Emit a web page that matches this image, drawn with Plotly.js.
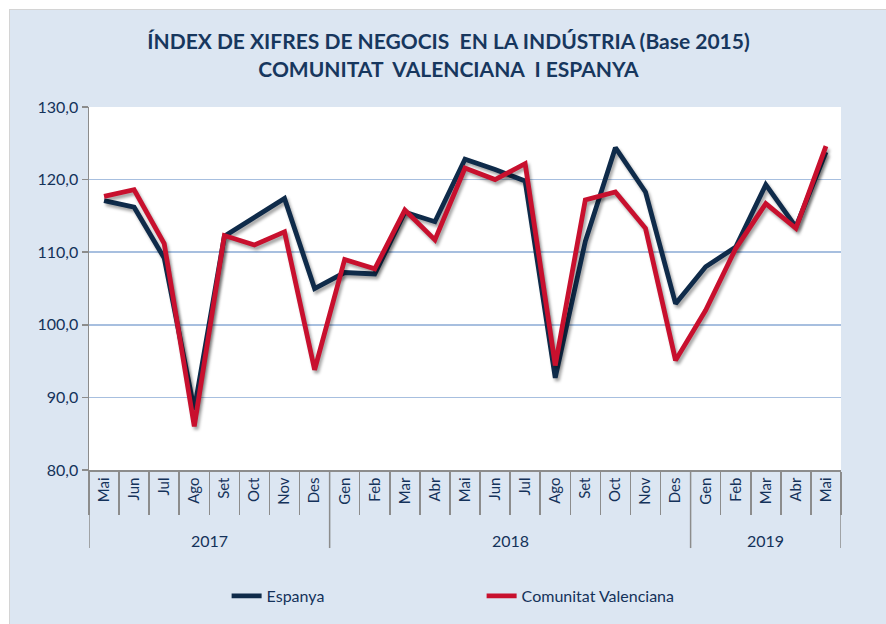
<!DOCTYPE html>
<html>
<head>
<meta charset="utf-8">
<script src="https://cdn.plot.ly/plotly-3.0.1.min.js"></script>
<style>
  html, body { margin: 0; padding: 0; background: #ffffff; }
  #chart { position: absolute; left: 9px; top: 9px; width: 877px; height: 615px;
           border-left: 1px solid #d4d4d4; border-top: 1px solid #d4d4d4; }
  #chart .scatterlayer .js-line { filter: drop-shadow(2px 3px 1.5px rgba(0,0,0,0.35)); }
</style>
</head>
<body>
<div id="chart"></div>
<script>
const years = ["2017","2017","2017","2017","2017","2017","2017","2017",
               "2018","2018","2018","2018","2018","2018","2018","2018","2018","2018","2018","2018",
               "2019","2019","2019","2019","2019"];
const months = ["Mai","Jun","Jul","Ago","Set","Oct","Nov","Des",
                "Gen","Feb","Mar","Abr","Mai","Jun","Jul","Ago","Set","Oct","Nov","Des",
                "Gen","Feb","Mar","Abr","Mai"];
const espanya = [117.1, 116.2, 109.2, 88.3, 112.2, 114.8, 117.4, 105.0,
                 107.2, 107.0, 115.5, 114.2, 122.8, 121.4, 119.8, 92.7, 111.5, 124.4, 118.3, 102.9,
                 108.0, 110.7, 119.3, 113.5, 123.8];
const valenciana = [117.7, 118.6, 111.2, 86.0, 112.3, 111.0, 112.8, 93.8,
                    109.0, 107.7, 115.8, 111.7, 121.6, 120.0, 122.2, 94.4, 117.2, 118.3, 113.3, 95.1,
                    102.0, 110.5, 116.7, 113.3, 124.6];
const seriesNames = ["Espanya", "Comunitat Valenciana"];

const navy = "#14325a";
const fontFam = "Lato, 'Open Sans', sans-serif";
const axisGray = "#8c8c8c";

const idx = months.map((m, i) => i);

const traces = [
  { x: idx, y: espanya, type: "scatter", mode: "lines", name: seriesNames[0],
    line: { color: "#0f2b4a", width: 4.8 } },
  { x: idx, y: valenciana, type: "scatter", mode: "lines", name: seriesNames[1],
    line: { color: "#c8102e", width: 4.8 } }
];

// year groups
const groups = [];
years.forEach((y, i) => {
  if (!groups.length || groups[groups.length - 1].year !== y) groups.push({ year: y, start: i, end: i });
  else groups[groups.length - 1].end = i;
});

const divLen = 0.215;
const shapes = [];
groups.forEach((g, k) => {
  shapes.push({ type: "line", xref: "x", yref: "paper", x0: g.start - 0.5, x1: g.start - 0.5,
                y0: 0, y1: -divLen, line: { color: axisGray, width: 1.5 } });
  if (k === groups.length - 1)
    shapes.push({ type: "line", xref: "x", yref: "paper", x0: g.end + 0.5, x1: g.end + 0.5,
                  y0: 0, y1: -divLen, line: { color: axisGray, width: 1.5 } });
});
const annotations = groups.map(g => ({
  xref: "x", yref: "paper", x: (g.start + g.end) / 2, y: -0.195, yanchor: "middle",
  text: g.year, showarrow: false, font: { family: fontFam, size: 16, color: navy }
}));

const layout = {
  width: 877, height: 615,
  paper_bgcolor: "#dce6f2",
  plot_bgcolor: "#ffffff",
  margin: { l: 79, r: 46, t: 97, b: 150 },
  separators: ",.",
  font: { family: fontFam, color: navy, size: 14 },
  title: { text: "<b>ÍNDEX DE XIFRES DE NEGOCIS  EN LA INDÚSTRIA (Base 2015)</b><br><b>COMUNITAT  VALENCIANA  I ESPANYA</b>",
           font: { family: fontFam, size: 21, color: "#17375e" },
           x: 0.5, xanchor: "center", yref: "container", y: 0.936, yanchor: "middle" },
  xaxis: {
    range: [-0.5, months.length - 0.5],
    tickmode: "array", tickvals: idx, ticktext: months,
    tickangle: -90,
    ticks: "",
    minor: { tick0: 0.5, dtick: 1, ticks: "outside", ticklen: 43, tickcolor: axisGray, tickwidth: 1.5, showgrid: false },
    showline: true, linecolor: axisGray, linewidth: 1.5,
    showgrid: false, zeroline: false, automargin: false,
    tickfont: { family: fontFam, size: 15, color: navy }
  },
  yaxis: {
    range: [80, 130], dtick: 10, tick0: 80,
    tickformat: ".1f",
    showline: true, linecolor: axisGray, linewidth: 1.5,
    ticks: "outside", ticklen: 6, tickcolor: axisGray, tickwidth: 1.5,
    showgrid: true, gridcolor: "#a7bfdf", gridwidth: 1.5,
    zeroline: false, automargin: false,
    tickfont: { family: fontFam, size: 16, color: navy }
  },
  shapes: shapes,
  annotations: annotations,
  showlegend: true,
  legend: {
    orientation: "h", x: 0.183, xanchor: "left", y: -0.3, yanchor: "top",
    entrywidth: 210, entrywidthmode: "pixels",
    font: { family: fontFam, size: 16, color: navy },
    bgcolor: "rgba(0,0,0,0)"
  }
};

Plotly.newPlot("chart", traces, layout, { displayModeBar: false, staticPlot: true });
</script>
</body>
</html>
